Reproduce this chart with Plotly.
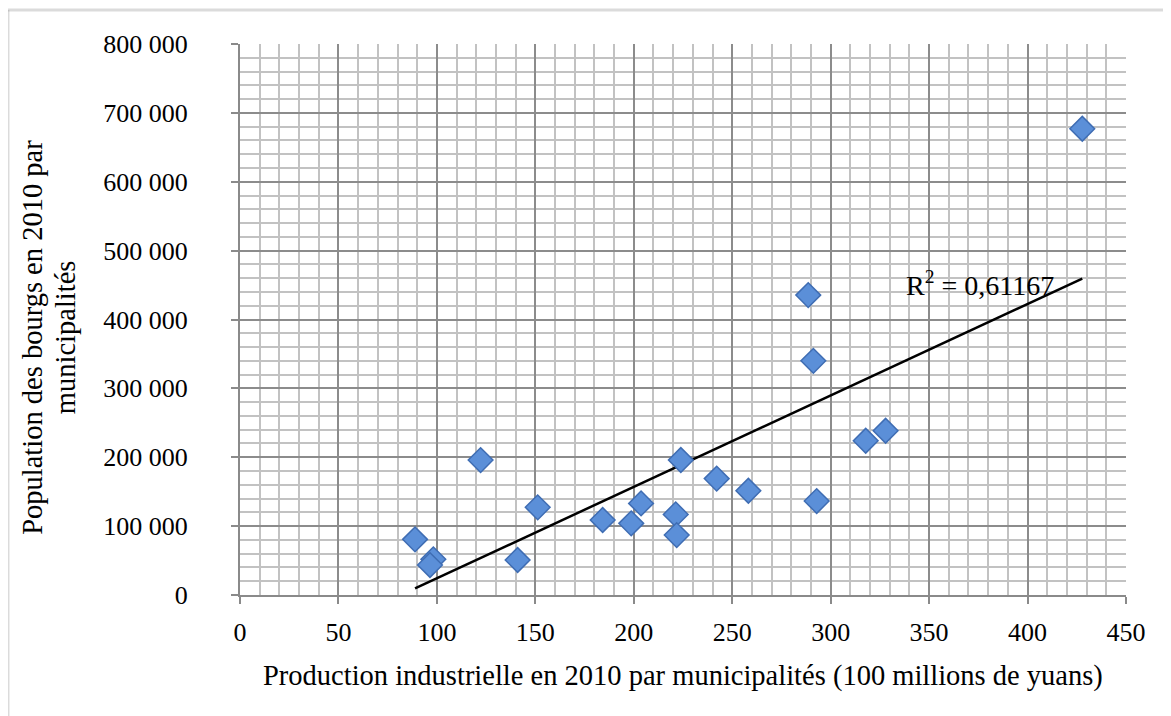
import numpy as np
import plotly.graph_objects as go

# industrial output 2010 (100 million yuan) vs town population 2010, per municipality
production = [88.9, 98.2, 96.5, 122.2, 151.2, 141.0, 184.2, 198.7, 203.7, 223.9,
              221.3, 221.8, 242.1, 258.2, 288.6, 291.2, 292.9, 317.8, 327.9, 427.8]
population = [80800, 51800, 43500, 195900, 127300, 50800, 108900, 104000, 133000, 196000,
              117000, 87000, 169000, 151400, 435400, 340000, 136400, 224000, 238500, 677000]

x_ticks = [0, 50, 100, 150, 200, 250, 300, 350, 400, 450]
y_ticks = [0, 100000, 200000, 300000, 400000, 500000, 600000, 700000, 800000]
r2_label = "R<sup>2</sup> = 0,61167"
x_title = "Production industrielle en 2010 par municipalités (100 millions de yuans)"
y_title_lines = ["Population des bourgs en 2010 par", "municipalités"]

font_name = "Liberation Serif"
grid_major = "#8c8c8c"
grid_minor = "#c2c2c2"

# linear trend line fitted on the points
slope, intercept = np.polyfit(production, population, 1)
trend_x = np.array([min(production), max(production)])
trend_y = slope * trend_x + intercept

fig = go.Figure()

fig.add_trace(go.Scatter(x=trend_x, y=trend_y, mode='lines',
                         line=dict(color='black', width=2.5),
                         showlegend=False, hoverinfo='skip'))

fig.add_trace(go.Scatter(x=production, y=population, mode='markers',
                         marker=dict(symbol='diamond', size=19, color='#5b8fd8',
                                     line=dict(color='#3f6db3', width=1.5)),
                         showlegend=False))

fig.add_annotation(x=337, y=453000, xref='x', yref='y', text=r2_label,
                   showarrow=False, xanchor='left', yanchor='middle',
                   font=dict(family=font_name, size=28, color='black'))

# axis titles
fig.add_annotation(x=0.5, y=-0.147, xref='paper', yref='paper', text=x_title,
                   showarrow=False, xanchor='center', yanchor='middle',
                   font=dict(family=font_name, size=28.5, color='black'))
for xpos, line in zip([-0.2351, -0.1975], y_title_lines):
    fig.add_annotation(x=xpos, y=0.468, xref='paper', yref='paper', textangle=-90,
                       text=line, showarrow=False, xanchor='center', yanchor='middle',
                       font=dict(family=font_name, size=28.5, color='black'))

# outer frame of the chart (only top and left are in view)
fig.add_shape(type='line', xref='paper', yref='paper', x0=-0.2619, x1=-0.2619, y0=-0.6, y1=1.0617,
              line=dict(color='#8a8a8a', width=3))
fig.add_shape(type='line', xref='paper', yref='paper', x0=-0.2619, x1=1.2, y0=1.0617, y1=1.0617,
              line=dict(color='#8a8a8a', width=3))

fig.update_layout(width=1171, height=716, template='simple_white',
                  paper_bgcolor='white', plot_bgcolor='white',
                  margin=dict(l=232, r=53, t=36, b=129),
                  separators=', ',
                  font=dict(family=font_name, size=26, color='black'))

fig.update_xaxes(range=[0, 450], tickvals=x_ticks, showgrid=True, gridcolor=grid_major, gridwidth=2,
                 minor=dict(dtick=10, showgrid=True, gridcolor=grid_minor, gridwidth=2, ticks=''),
                 showline=True, linecolor='#8a8a8a', linewidth=2, mirror=False,
                 ticks='outside', ticklen=7, tickwidth=2, tickcolor='#8a8a8a',
                 ticklabelstandoff=6, zeroline=False,
                 tickfont=dict(family=font_name, size=26, color='black'))
fig.update_yaxes(range=[0, 800000], tickvals=y_ticks, tickformat=',d', showgrid=True,
                 gridcolor=grid_major, gridwidth=2,
                 minor=dict(dtick=20000, showgrid=True, gridcolor=grid_minor, gridwidth=2, ticks=''),
                 showline=True, linecolor='#8a8a8a', linewidth=2, mirror=False,
                 ticks='outside', ticklen=7, tickwidth=2, tickcolor='#8a8a8a',
                 ticklabelstandoff=38, zeroline=False,
                 tickfont=dict(family=font_name, size=26, color='black'))

fig.write_html("out.html")
